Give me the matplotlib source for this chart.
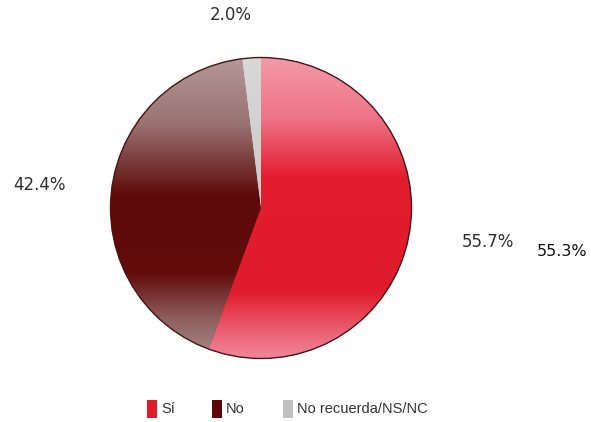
import numpy as np
import matplotlib
matplotlib.use("Agg")
import matplotlib.pyplot as plt
from matplotlib.colors import LinearSegmentedColormap
from matplotlib.patches import Rectangle

# data
labels = ["Sí", "No", "No recuerda/NS/NC"]
values = [55.7, 42.4, 2.0]
extra_label = "55.3%"  # second figure printed next to the "Sí" label in the original
colors = ["#e01b2b", "#5c0808", "#c0c0c0"]

W, H = 591, 422
fig = plt.figure(figsize=(W / 100, H / 100), dpi=100)

# pie axes: center ~ (261, 208) px, radius ~152 px
cx, cy, r = 261, 208, 152
ax = fig.add_axes([(cx - r) / W, (H - cy - r) / H, 2 * r / W, 2 * r / H])

wedges, _ = ax.pie(values, startangle=90, counterclock=False,
                   colors=colors, wedgeprops=dict(linewidth=0))
ax.set_xlim(-1.01, 1.01)
ax.set_ylim(-1.01, 1.01)
ax.set_aspect("equal")
ax.axis("off")

# vertical gradients (0 = top, 1 = bottom) for the glossy look
grads = [
    [(0.0, "#f29aa8"), (0.2, "#ee7487"), (0.4, "#e31c2e"), (0.78, "#e01b2b"),
     (0.9, "#ea5a6c"), (1.0, "#f2869a")],
    [(0.0, "#b49898"), (0.22, "#9a7272"), (0.46, "#5e0a0a"), (0.72, "#620c0c"),
     (0.87, "#8e5e5e"), (1.0, "#a88c8c")],
    [(0.0, "#d8d8d8"), (1.0, "#bcbcbc")],
]
yy = np.linspace(0, 1, 256).reshape(-1, 1)
for w, g in zip(wedges, grads):
    cmap = LinearSegmentedColormap.from_list("g", g)
    im = ax.imshow(np.repeat(yy, 4, axis=1), cmap=cmap, vmin=0, vmax=1,
                   extent=[-1, 1, -1, 1], origin="upper", aspect="auto", zorder=2)
    im.set_clip_path(w)

circle = plt.Circle((0, 0), 1.0, fill=False, edgecolor="#4a1515", linewidth=1.0, zorder=3)
ax.add_patch(circle)

# percentage labels
txt = dict(fontsize=12, color="#2e2e2e", ha="center", va="center", family="DejaVu Sans")
fig.text(231 / W, 1 - 15 / H, f"{values[2]:.1f}%", **txt)
fig.text(40 / W, 1 - 185 / H, f"{values[1]:.1f}%", **txt)
fig.text(488 / W, 1 - 242 / H, f"{values[0]:.1f}%", **txt)
fig.text(562 / W, 1 - 252 / H, extra_label, fontsize=11.5, color="#111111",
         ha="center", va="center", family="DejaVu Sans")

# legend drawn by hand: small tall swatches + labels
leg_x = [147, 212, 283]
leg_y = 409
for x, lab, c in zip(leg_x, labels, colors):
    fig.patches.append(Rectangle((x / W, (H - leg_y - 9) / H), 10 / W, 18 / H,
                                 transform=fig.transFigure, facecolor=c,
                                 edgecolor="none", figure=fig))
    fig.text((x + 14) / W, 1 - leg_y / H, lab, fontsize=10.5, color="#333333",
             ha="left", va="center", family="Liberation Sans")

fig.savefig("out.png", dpi=100, facecolor="white")
